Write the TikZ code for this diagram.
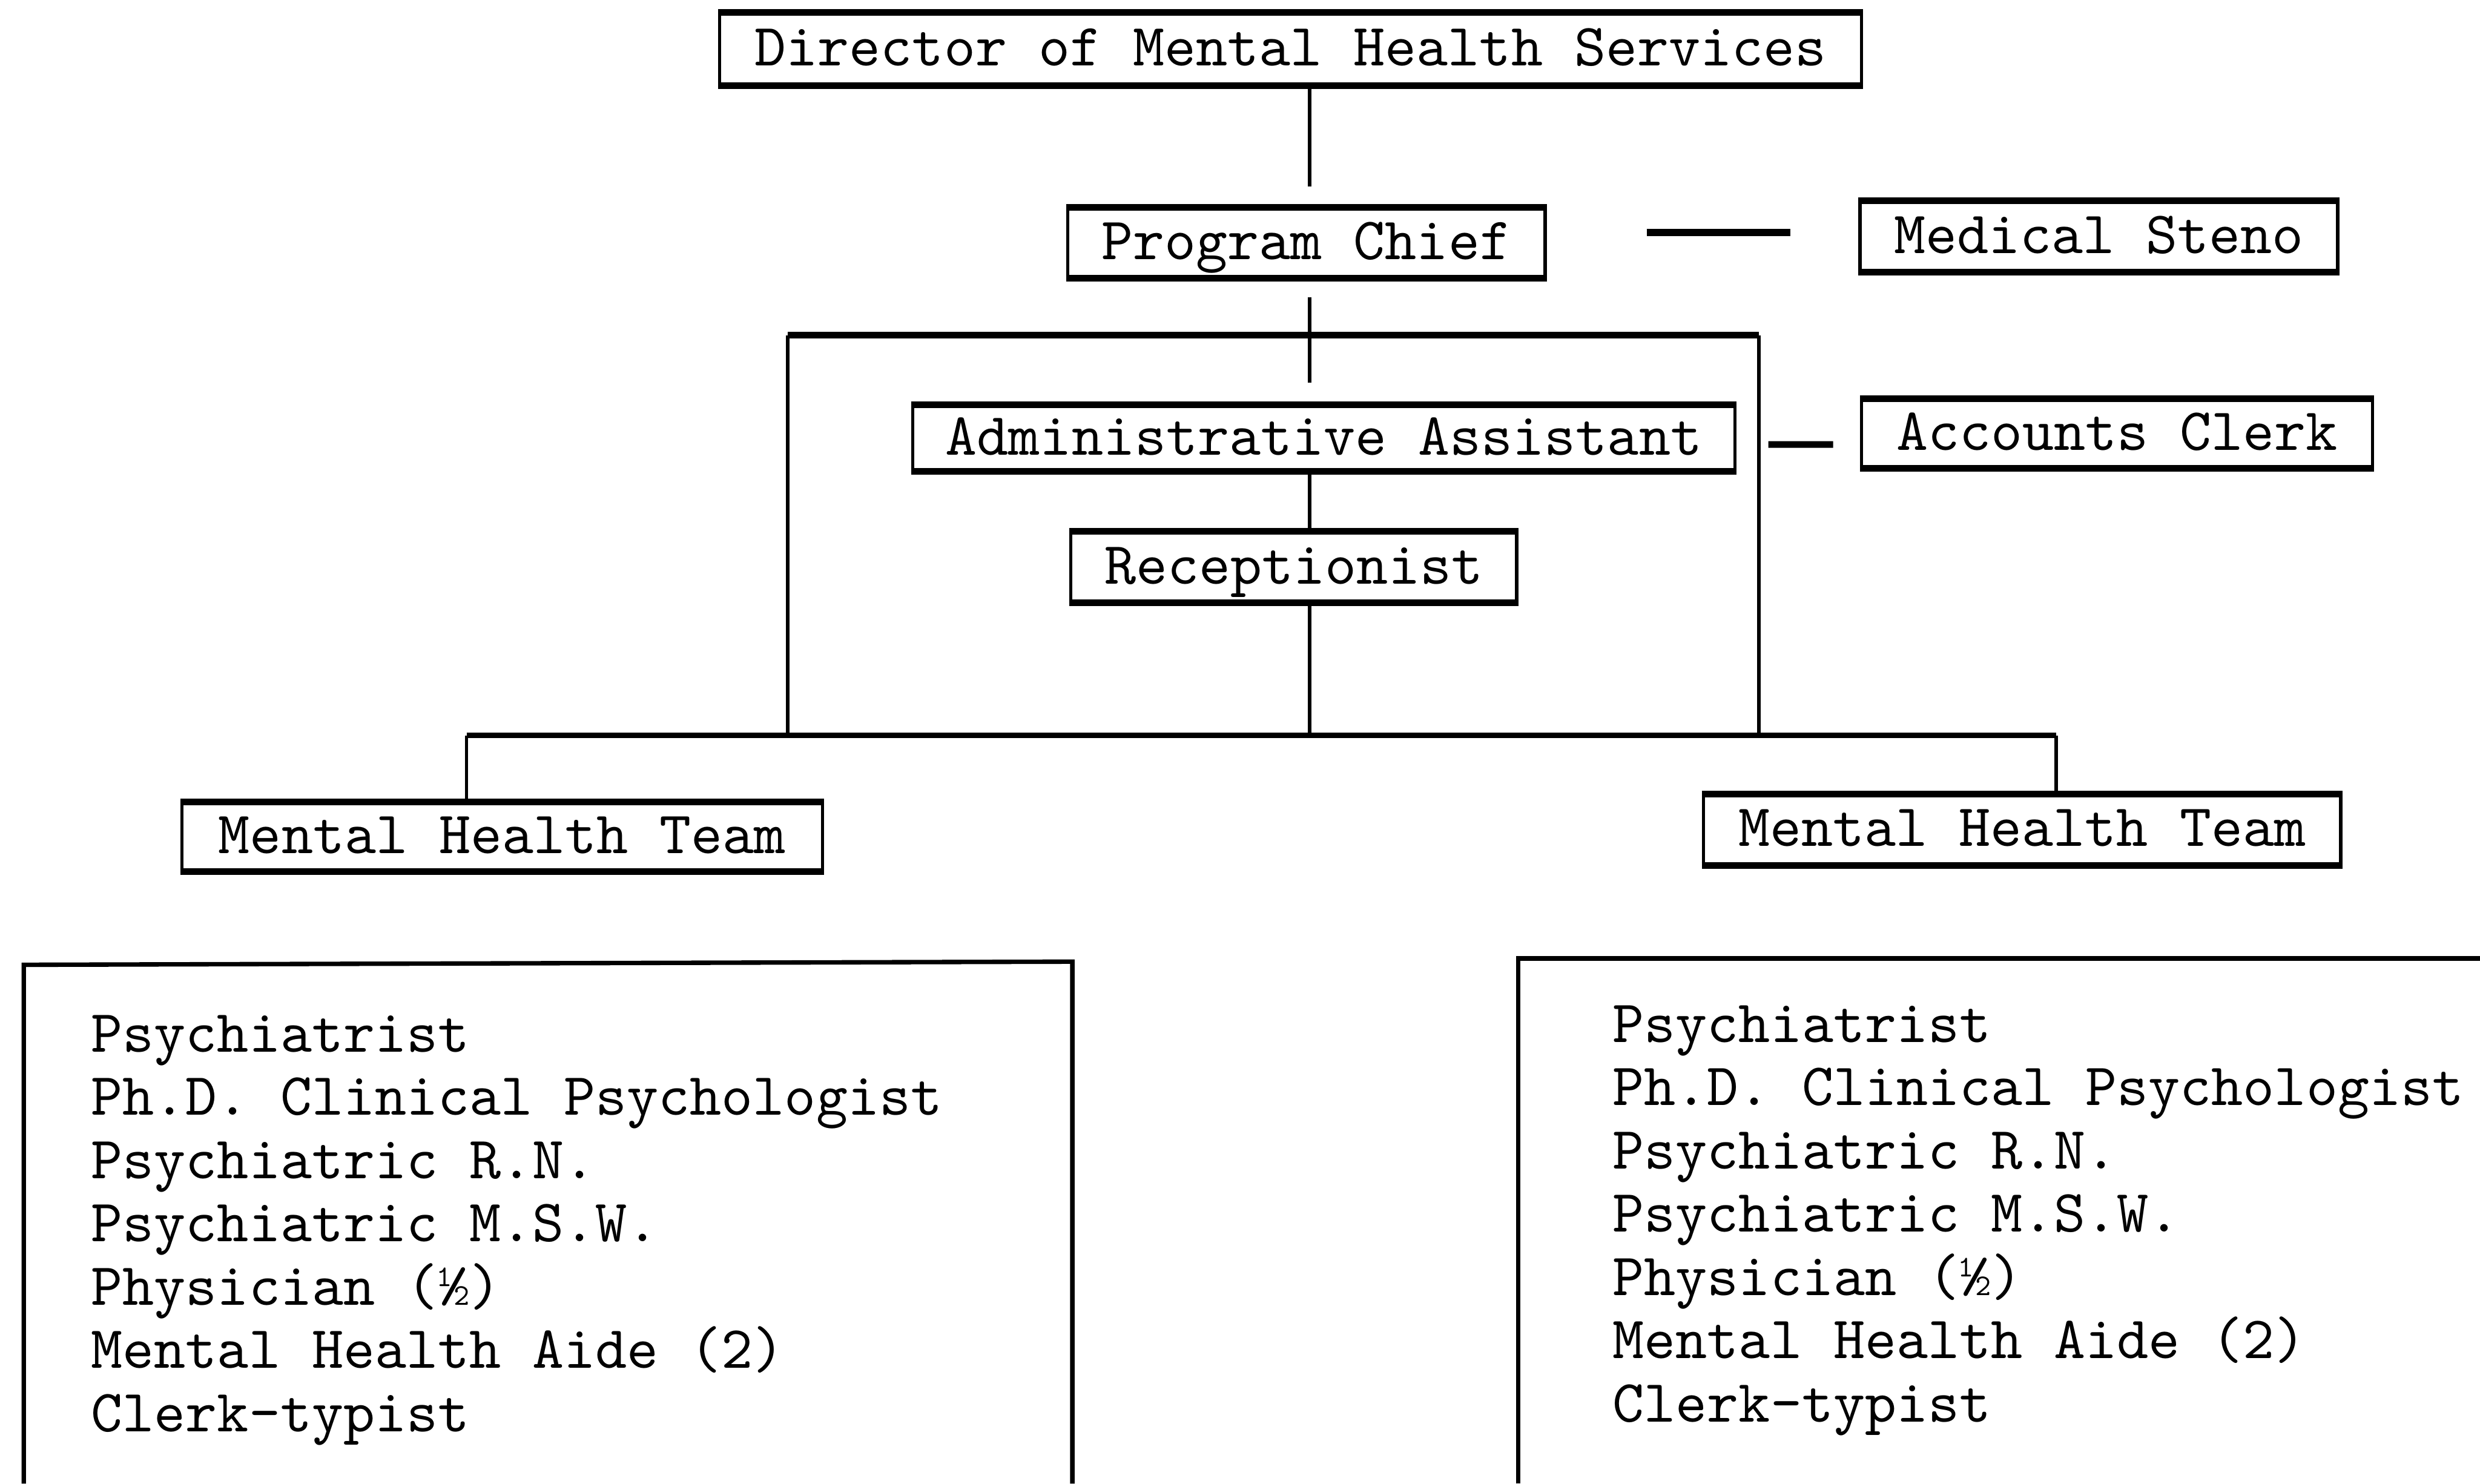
\documentclass[tikz,border=0pt]{standalone}
\usepackage{fontspec}
\usetikzlibrary{calc}
\newcommand{\typed}{\fontsize{10.8pt}{11.4pt}\selectfont\ttfamily}
\tikzset{
    post/.style={
        draw, line width=0.6pt, inner sep=0pt, font=\typed,
        text height=0.78em, text depth=0.18em,
        append after command={
            (\tikzlastnode.north west) edge[line width=1.2pt] (\tikzlastnode.north east)
            (\tikzlastnode.south west) edge[line width=1.2pt] (\tikzlastnode.south east)
        }
    },
    link/.style={line width=0.6pt},
    bar/.style={line width=1.2pt},
    staff/.style={anchor=base west, inner sep=0pt, font=\typed}
}

\begin{document}
\begin{tikzpicture}
\useasboundingbox (0,0) rectangle (15.68,-9.38);

% Puestos
\node[post, minimum width=7.22cm, minimum height=0.44cm] (director) at (8.16,-0.31) {Director of Mental Health Services};
\node[post, minimum width=3.02cm, minimum height=0.43cm] (chief) at (8.26,-1.535) {Program Chief};
\node[post, minimum width=3.02cm, minimum height=0.43cm] (steno) at (13.27,-1.495) {Medical Steno};
\node[post, minimum width=5.20cm, minimum height=0.40cm] (admin) at (8.37,-2.77) {Administrative Assistant};
\node[post, minimum width=3.23cm, minimum height=0.42cm] (clerk) at (13.385,-2.74) {Accounts Clerk};
\node[post, minimum width=2.82cm, minimum height=0.43cm] (recep) at (8.18,-3.585) {Receptionist};
\node[post, minimum width=4.05cm, minimum height=0.42cm] (teamL) at (3.175,-5.29) {Mental Health Team};
\node[post, minimum width=4.03cm, minimum height=0.43cm] (teamR) at (12.785,-5.245) {Mental Health Team};

% Puntos de apoyo
\coordinate (trunk) at (8.28,0);
\coordinate (dirEnd) at (8.28,-1.18);
\coordinate (chiefEnd) at (8.28,-2.42);
\coordinate (bracketL) at (4.98,-2.12);
\coordinate (bracketR) at (11.12,-2.12);
\coordinate (busL) at (2.95,-4.65);
\coordinate (busR) at (13.00,-4.65);

% Linea de mando
\draw[link] (director.south -| dirEnd) -- (dirEnd);
\draw[link] ($(chief.south -| chiefEnd)+(0,-0.12)$) -- (chiefEnd);
\draw[link] (admin.south -| trunk) -- (recep.north -| trunk);
\draw[link] (recep.south -| trunk) -- (trunk |- busL);

% Corchete alrededor de la administracion
\draw[bar] (bracketL) -- (bracketR);
\draw[link] (bracketL) -- (bracketL |- busL);
\draw[link] (bracketR) -- (bracketR |- busR);

% Barra hacia los equipos
\draw[line width=1pt] (busL) -- (busR);
\draw[link] (busL) -- (teamL.north -| busL);
\draw[link] (busR) -- (teamR.north -| busR);

% Trazos sueltos hacia el personal de apoyo
\draw[bar] ($(chief.east)+(0.63,0.065)$) -- ($(steno.west)+(-0.43,0.025)$);
\draw[bar] ($(admin.east)+(0.20,-0.04)$) -- ($(clerk.west)+(-0.17,-0.07)$);

% Cuadros de cada equipo
\draw[line width=0.8pt] (0.15,-9.38) -- (0.15,-6.10) -- (6.78,-6.08) -- (6.78,-9.38);
\draw[line width=0.8pt] (9.60,-9.38) -- (9.60,-6.06) -- (15.68,-6.06);

\foreach \role [count=\i from 0] in {Psychiatrist, Ph.D. Clinical Psychologist, Psychiatric R.N., Psychiatric M.S.W., Physician (½), Mental Health Aide (2), Clerk-typist} {
    \node[staff] (staffL\i) at (0.57,{-6.65-0.40*\i}) {\role};
    \node[staff] (staffR\i) at (10.19,{-6.59-0.40*\i}) {\role};
}

\end{tikzpicture}
\end{document}
